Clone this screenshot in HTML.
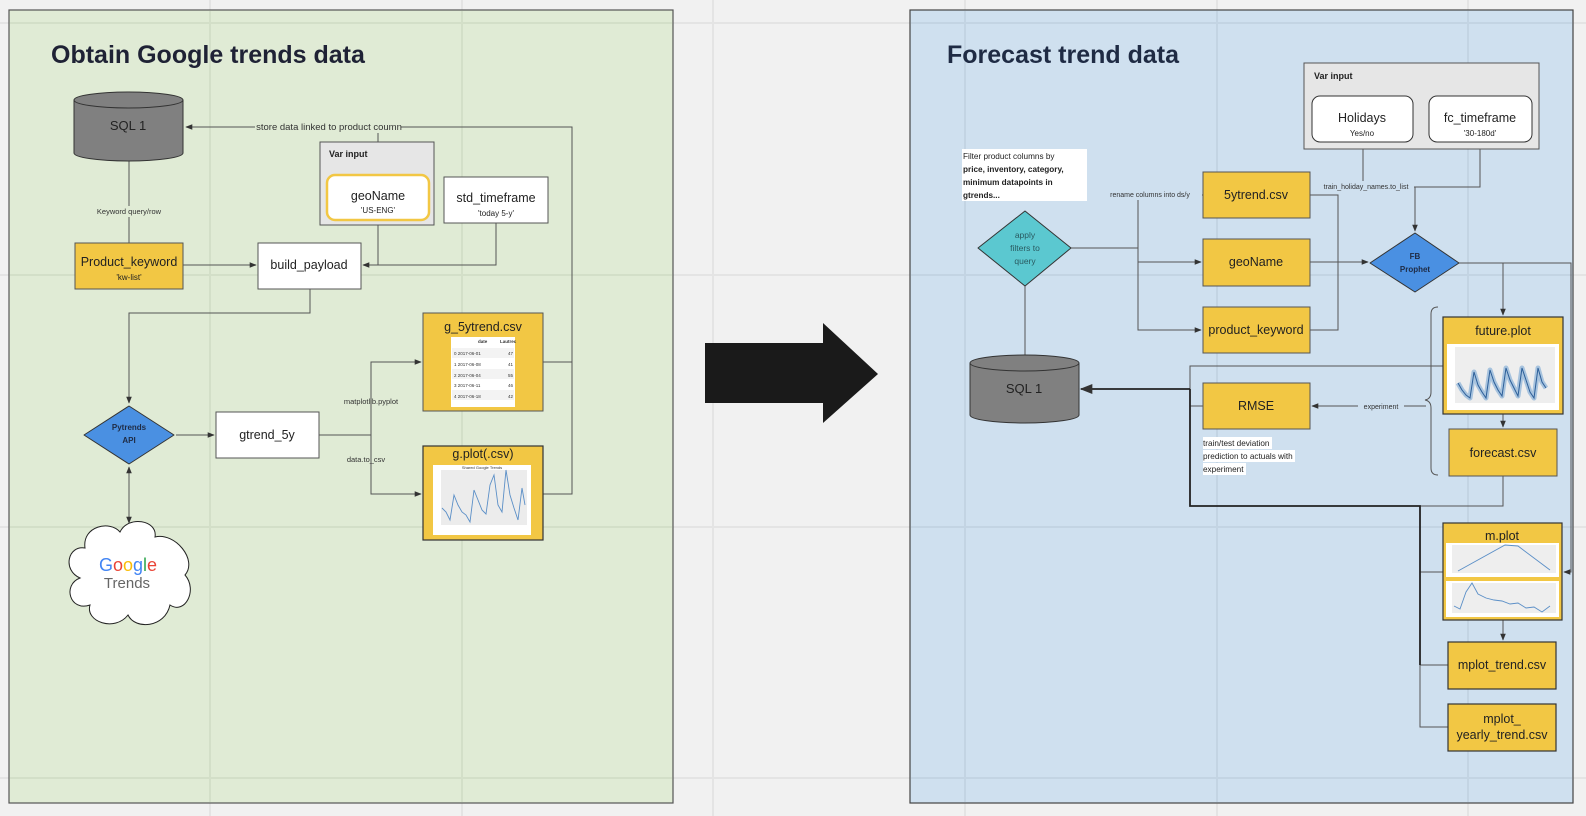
<!DOCTYPE html>
<html><head><meta charset="utf-8"><style>
html,body{margin:0;padding:0;background:#f1f1f1;}
svg{display:block;font-family:"Liberation Sans",sans-serif;}
</style></head><body>
<svg width="1586" height="816" viewBox="0 0 1586 816" xmlns="http://www.w3.org/2000/svg">
<defs>
<marker id="a" viewBox="0 0 10 10" refX="9" refY="5" markerWidth="7" markerHeight="7" orient="auto-start-reverse"><path d="M0,1 L10,5 L0,9 z" fill="#333"/></marker>
</defs>
<rect width="1586" height="816" fill="#f1f1f1"/>
<g stroke="#e4e4e4" stroke-width="2">
<line x1="210" y1="0" x2="210" y2="816"/><line x1="462" y1="0" x2="462" y2="816"/><line x1="713" y1="0" x2="713" y2="816"/>
<line x1="965" y1="0" x2="965" y2="816"/><line x1="1217" y1="0" x2="1217" y2="816"/><line x1="1468" y1="0" x2="1468" y2="816"/>
<line x1="0" y1="23" x2="1586" y2="23"/><line x1="0" y1="275" x2="1586" y2="275"/><line x1="0" y1="527" x2="1586" y2="527"/><line x1="0" y1="778" x2="1586" y2="778"/>
</g>
<!-- panels -->
<rect x="9" y="10" width="664" height="793" fill="#e0ebd5" stroke="#555" stroke-width="1.2"/>
<rect x="910" y="10" width="663" height="793" fill="#cfe0ef" stroke="#444" stroke-width="1.2"/>
<g stroke="#d3dfc8" stroke-width="2"><line x1="210" y1="11" x2="210" y2="802"/><line x1="462" y1="11" x2="462" y2="802"/><line x1="10" y1="23" x2="672" y2="23"/><line x1="10" y1="275" x2="672" y2="275"/><line x1="10" y1="527" x2="672" y2="527"/><line x1="10" y1="778" x2="672" y2="778"/></g>
<g stroke="#c3d4e3" stroke-width="2"><line x1="965" y1="11" x2="965" y2="802"/><line x1="1217" y1="11" x2="1217" y2="802"/><line x1="1468" y1="11" x2="1468" y2="802"/><line x1="911" y1="23" x2="1572" y2="23"/><line x1="911" y1="275" x2="1572" y2="275"/><line x1="911" y1="527" x2="1572" y2="527"/><line x1="911" y1="778" x2="1572" y2="778"/></g>
<text x="51" y="63" font-size="25" font-weight="bold" fill="#1f2235">Obtain Google trends data</text>
<text x="947" y="63" font-size="25" font-weight="bold" fill="#1f2b44">Forecast trend data</text>

<!-- big arrow -->
<path d="M705,343 L823,343 L823,323 L878,374 L823,423 L823,403 L705,403 z" fill="#1a1a1a"/>

<!-- LEFT connectors -->
<g fill="none" stroke="#555" stroke-width="1">
<path d="M543,362 H572 V127 H186" marker-end="url(#a)"/>
<path d="M543,494 H572 V362"/>
<path d="M378,127 V168"/>
<path d="M129,161 V243"/>
<path d="M183,265 H256" marker-end="url(#a)"/>
<path d="M378,225 V265 H363" marker-end="url(#a)"/>
<path d="M496,223 V265 H378"/>
<path d="M310,289 V313 H129 V403" marker-end="url(#a)"/>
<path d="M176,435 H214" marker-end="url(#a)"/>
<path d="M319,435 H371 V362 H421" marker-end="url(#a)"/>
<path d="M371,435 V494 H421" marker-end="url(#a)"/>
<path d="M129,467 V523" marker-start="url(#a)" marker-end="url(#a)"/>
</g>
<path d="M378,167 l4,5 l-4,5 l-4,-5 z" fill="#fff" stroke="#555"/>
<rect x="255" y="121" width="146" height="12" fill="#e0ebd5"/>
<text x="329" y="130" font-size="9.5" fill="#333" text-anchor="middle">store data linked to product coumn</text>
<rect x="92" y="206" width="74" height="11" fill="#e0ebd5"/>
<text x="129" y="214" font-size="7.5" fill="#333" text-anchor="middle">Keyword query/row</text>
<text x="371" y="404" font-size="7.5" fill="#333" text-anchor="middle">matplotlib.pyplot</text>
<text x="366" y="462" font-size="7.5" fill="#333" text-anchor="middle">data.to_csv</text>

<!-- LEFT nodes -->
<path d="M74,100 V153 A54.5,8 0 0 0 183,153 V100 A54.5,8 0 0 0 74,100 A54.5,8 0 0 0 183,100" fill="#808080" stroke="#333"/>
<text x="128" y="130" font-size="13" fill="#222" text-anchor="middle">SQL 1</text>
<rect x="75" y="243" width="108" height="46" fill="#f2c744" stroke="#555"/>
<text x="129" y="266" font-size="12.5" fill="#222" text-anchor="middle">Product_keyword</text>
<text x="129" y="280" font-size="8" fill="#222" text-anchor="middle">'kw-list'</text>
<rect x="258" y="243" width="103" height="46" fill="#fff" stroke="#555"/>
<text x="309" y="269" font-size="12.5" fill="#222" text-anchor="middle">build_payload</text>
<rect x="320" y="142" width="114" height="83" fill="#e6e6e6" stroke="#555"/>
<text x="329" y="157" font-size="9" font-weight="bold" fill="#222">Var input</text>
<rect x="327" y="175" width="102" height="45" rx="8" fill="#fff" stroke="#f2c744" stroke-width="2.5"/>
<text x="378" y="200" font-size="12.5" fill="#222" text-anchor="middle">geoName</text>
<text x="378" y="213" font-size="8" fill="#222" text-anchor="middle">'US-ENG'</text>
<rect x="444" y="177" width="104" height="46" fill="#fff" stroke="#555"/>
<text x="496" y="202" font-size="12.5" fill="#222" text-anchor="middle">std_timeframe</text>
<text x="496" y="216" font-size="8" fill="#222" text-anchor="middle">'today 5-y'</text>
<path d="M129,406 L174,435 L129,464 L84,435 z" fill="#4a90e2" stroke="#333" stroke-linejoin="round"/>
<text x="129" y="430" font-size="8" font-weight="bold" fill="#1f2b44" text-anchor="middle">Pytrends</text>
<text x="129" y="443" font-size="8" font-weight="bold" fill="#1f2b44" text-anchor="middle">API</text>
<rect x="216" y="412" width="103" height="46" fill="#fff" stroke="#555"/>
<text x="267" y="439" font-size="12.5" fill="#222" text-anchor="middle">gtrend_5y</text>
<rect x="423" y="313" width="120" height="98" fill="#f2c744" stroke="#555"/>
<text x="483" y="331" font-size="12.5" fill="#222" text-anchor="middle">g_5ytrend.csv</text>
<rect x="451" y="337" width="64" height="70" fill="#fff"/>
<g font-size="4.5" fill="#333"><text x="478" y="343" font-weight="bold">date</text><text x="500" y="343" font-weight="bold">Lautrec</text>
<rect x="452" y="348" width="62" height="10" fill="#f3f3f3"/><rect x="452" y="369" width="62" height="10" fill="#f3f3f3"/><rect x="452" y="390" width="62" height="10" fill="#f3f3f3"/>
<text x="454" y="355">0  2017-06-01</text><text x="508" y="355">47</text>
<text x="454" y="366">1  2017-06-08</text><text x="508" y="366">41</text>
<text x="454" y="377">2  2017-06-04</text><text x="508" y="377">55</text>
<text x="454" y="387">3  2017-06-11</text><text x="508" y="387">46</text>
<text x="454" y="398">4  2017-06-18</text><text x="508" y="398">42</text></g>
<rect x="423" y="446" width="120" height="94" fill="#f2c744" stroke="#333" stroke-width="1.2"/>
<text x="483" y="458" font-size="12.5" fill="#222" text-anchor="middle">g.plot(.csv)</text>
<rect x="433" y="465" width="98" height="70" fill="#fff"/>
<rect x="441" y="470" width="86" height="55" fill="#ececec"/>
<text x="482" y="469" font-size="4" fill="#333" text-anchor="middle">Shared Google Trends</text>
<polyline points="442,508 446,512 450,520 454,495 458,505 462,512 466,515 470,522 474,490 478,500 482,510 486,514 490,485 494,475 498,505 502,512 506,470 510,495 514,508 518,520 522,488 525,505" fill="none" stroke="#5b8fc7" stroke-width="0.9"/>
<!-- cloud -->
<path d="M80,578 C62,570 68,545 85,548 C82,526 110,520 120,532 C128,515 158,520 155,537 C175,532 198,560 185,575 C198,590 185,615 170,605 C165,628 135,630 128,615 C115,632 85,622 90,605 C70,612 62,585 80,578 z" fill="#fff" stroke="#222"/>
<text x="128" y="571" font-size="18" text-anchor="middle"><tspan fill="#4285f4">G</tspan><tspan fill="#ea4335">o</tspan><tspan fill="#fbbc05">o</tspan><tspan fill="#4285f4">g</tspan><tspan fill="#34a853">l</tspan><tspan fill="#ea4335">e</tspan></text>
<text x="127" y="588" font-size="15" fill="#666" text-anchor="middle">Trends</text>

<!-- RIGHT connectors -->
<g fill="none" stroke="#555" stroke-width="1">
<path d="M1071,248 H1138 V195 H1203"/>
<path d="M1138,248 V262 H1201" marker-end="url(#a)"/>
<path d="M1138,262 V330 H1201" marker-end="url(#a)"/>
<path d="M1310,195 H1338 V330 H1310"/>
<path d="M1310,262 H1368" marker-end="url(#a)"/>
<path d="M1363,149 V187 H1415"/>
<path d="M1480,149 V187 H1415 V231" marker-end="url(#a)"/>
<path d="M1459,263 H1503 V315" marker-end="url(#a)"/>
<path d="M1459,263 H1571 V572 H1564" marker-end="url(#a)"/>
<path d="M1025,286 V355"/>
<path d="M1443,366 H1190 V506"/>
<path d="M1203,406 H1190"/>
<path d="M1426,406 H1312" marker-end="url(#a)"/>
<path d="M1503,414 V427" marker-end="url(#a)"/>
<path d="M1503,476 V506 H1420"/>
<path d="M1420,572 H1443"/>
<path d="M1420,665 H1448"/>
<path d="M1420,665 V727 H1448"/>
<path d="M1503,620 V640" marker-end="url(#a)"/>
<path d="M1438,307 q-7,0 -7,7 v78 q0,7 -6,8 q6,1 6,8 v60 q0,7 7,7"/>
</g>
<g fill="none" stroke="#222" stroke-width="1.8">
<path d="M1190,389 H1081" marker-end="url(#a)"/>
<path d="M1190,389 V506 H1420 V665"/>
</g>
<rect x="1098" y="189" width="104" height="11" fill="#cfe0ef"/>
<text x="1150" y="197" font-size="7" fill="#333" text-anchor="middle">rename columns into ds/y</text>
<rect x="1318" y="181" width="96" height="11" fill="#cfe0ef"/>
<text x="1366" y="189" font-size="7" fill="#333" text-anchor="middle">train_holiday_names.to_list</text>
<rect x="1358" y="400" width="46" height="11" fill="#cfe0ef"/>
<text x="1381" y="409" font-size="7" fill="#333" text-anchor="middle">experiment</text>

<!-- RIGHT nodes -->
<rect x="1304" y="63" width="235" height="86" fill="#e6e6e6" stroke="#555"/>
<text x="1314" y="79" font-size="9" font-weight="bold" fill="#222">Var input</text>
<rect x="1312" y="96" width="101" height="46" rx="8" fill="#fff" stroke="#333"/>
<text x="1362" y="122" font-size="12.5" fill="#222" text-anchor="middle">Holidays</text>
<text x="1362" y="136" font-size="8" fill="#222" text-anchor="middle">Yes/no</text>
<rect x="1429" y="96" width="103" height="46" rx="8" fill="#fff" stroke="#333"/>
<text x="1480" y="122" font-size="12.5" fill="#222" text-anchor="middle">fc_timeframe</text>
<text x="1480" y="136" font-size="8" fill="#222" text-anchor="middle">'30-180d'</text>
<rect x="962" y="149" width="125" height="52" fill="#fff"/>
<g font-size="8.2" fill="#222"><text x="963" y="159">Filter product columns by</text>
<text x="963" y="172" font-weight="bold">price, inventory, category,</text>
<text x="963" y="185" font-weight="bold">minimum datapoints in</text>
<text x="963" y="198" font-weight="bold">gtrends...</text></g>
<path d="M1025,211 L1071,248 L1025,286 L978,248 z" fill="#5bc8d0" stroke="#333" stroke-linejoin="round"/>
<g font-size="8.5" fill="#2a5a60" text-anchor="middle"><text x="1025" y="238">apply</text><text x="1025" y="251">filters to</text><text x="1025" y="264">query</text></g>
<rect x="1203" y="172" width="107" height="46" fill="#f2c744" stroke="#555"/>
<text x="1256" y="199" font-size="12.5" fill="#222" text-anchor="middle">5ytrend.csv</text>
<rect x="1203" y="239" width="107" height="47" fill="#f2c744" stroke="#555"/>
<text x="1256" y="266" font-size="12.5" fill="#222" text-anchor="middle">geoName</text>
<rect x="1203" y="307" width="107" height="46" fill="#f2c744" stroke="#555"/>
<text x="1256" y="334" font-size="12.5" fill="#222" text-anchor="middle">product_keyword</text>
<path d="M1415,233 L1459,263 L1415,292 L1370,263 z" fill="#4a90e2" stroke="#333" stroke-linejoin="round"/>
<text x="1415" y="259" font-size="8" font-weight="bold" fill="#1f2b44" text-anchor="middle">FB</text>
<text x="1415" y="272" font-size="8" font-weight="bold" fill="#1f2b44" text-anchor="middle">Prophet</text>
<path d="M970,363 V415 A54.5,8 0 0 0 1079,415 V363 A54.5,8 0 0 0 970,363 A54.5,8 0 0 0 1079,363" fill="#808080" stroke="#333"/>
<text x="1024" y="393" font-size="13" fill="#222" text-anchor="middle">SQL 1</text>
<rect x="1203" y="383" width="107" height="46" fill="#f2c744" stroke="#555"/>
<text x="1256" y="410" font-size="12.5" fill="#222" text-anchor="middle">RMSE</text>
<rect x="1203" y="437" width="69" height="12" fill="#fff"/><rect x="1203" y="450" width="92" height="12" fill="#fff"/><rect x="1203" y="463" width="43" height="12" fill="#fff"/>
<g font-size="8.2" fill="#222"><text x="1203" y="446">train/test deviation</text><text x="1203" y="459">prediction to actuals with</text><text x="1203" y="472">experiment</text></g>
<rect x="1443" y="317" width="120" height="97" fill="#f2c744" stroke="#333" stroke-width="1.2"/>
<text x="1503" y="335" font-size="12.5" fill="#222" text-anchor="middle">future.plot</text>
<rect x="1447" y="344" width="112" height="66" fill="#fff"/>
<rect x="1455" y="347" width="100" height="56" fill="#eee"/>
<polyline points="1458,383 1462,390 1466,395 1470,398 1474,372 1478,385 1482,392 1486,398 1490,370 1494,382 1498,390 1502,396 1506,368 1510,380 1514,388 1518,396 1522,368 1526,380 1530,392 1534,398 1538,368 1542,382 1546,388" fill="none" stroke="#a7c3de" stroke-width="5" stroke-linejoin="round"/>
<polyline points="1458,383 1462,390 1466,395 1470,398 1474,372 1478,385 1482,392 1486,398 1490,370 1494,382 1498,390 1502,396 1506,368 1510,380 1514,388 1518,396 1522,368 1526,380 1530,392 1534,398 1538,368 1542,382 1546,388" fill="none" stroke="#2d5f99" stroke-width="1"/>
<rect x="1449" y="429" width="108" height="47" fill="#f2c744" stroke="#555"/>
<text x="1503" y="457" font-size="12.5" fill="#222" text-anchor="middle">forecast.csv</text>
<rect x="1443" y="523" width="119" height="97" fill="#f2c744" stroke="#333" stroke-width="1.2"/>
<text x="1502" y="540" font-size="12.5" fill="#222" text-anchor="middle">m.plot</text>
<rect x="1446" y="543" width="113" height="34" fill="#fff"/><rect x="1452" y="545" width="104" height="28" fill="#eee"/>
<polyline points="1458,571 1505,545 1518,546 1550,570" fill="none" stroke="#5b8fc7" stroke-width="0.9"/>
<rect x="1446" y="581" width="113" height="36" fill="#fff"/><rect x="1452" y="583" width="104" height="30" fill="#eee"/>
<polyline points="1454,606 1460,609 1466,592 1472,583 1478,594 1486,598 1494,600 1502,601 1510,604 1518,603 1526,608 1534,607 1542,612 1550,606" fill="none" stroke="#5b8fc7" stroke-width="0.9"/>
<rect x="1448" y="642" width="108" height="47" fill="#f2c744" stroke="#333" stroke-width="1.2"/>
<text x="1502" y="669" font-size="12.5" fill="#222" text-anchor="middle">mplot_trend.csv</text>
<rect x="1448" y="704" width="108" height="47" fill="#f2c744" stroke="#333" stroke-width="1.2"/>
<text x="1502" y="723" font-size="12.5" fill="#222" text-anchor="middle">mplot_</text>
<text x="1502" y="739" font-size="12.5" fill="#222" text-anchor="middle">yearly_trend.csv</text>
</svg>
</body></html>
